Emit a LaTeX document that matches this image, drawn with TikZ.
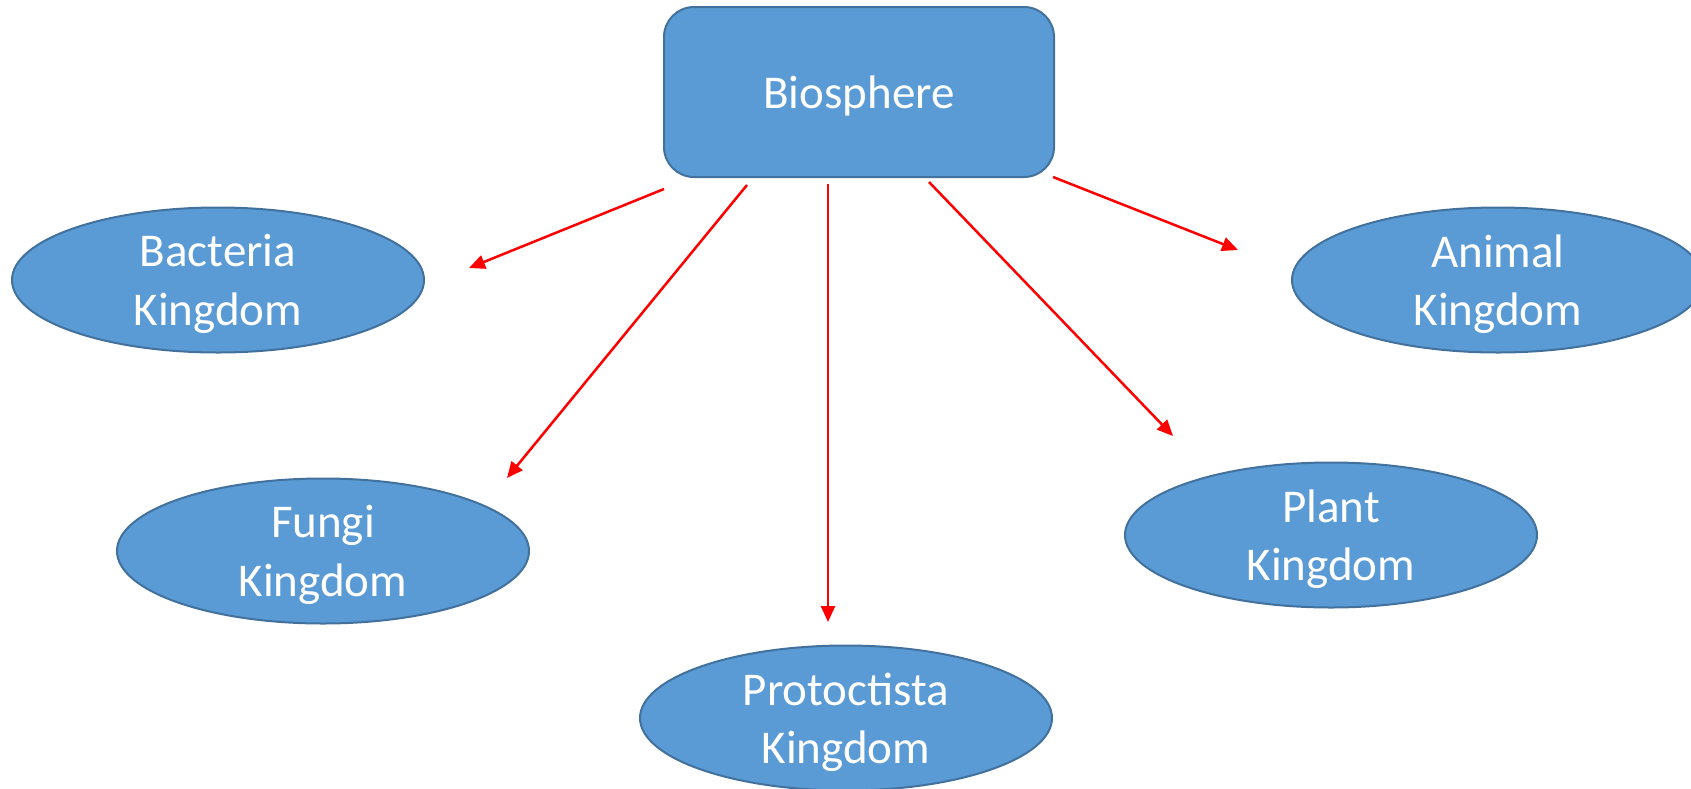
\documentclass[tikz,border=0pt]{standalone}
\usepackage{fontspec}
\setmainfont{Carlito}
\usetikzlibrary{shapes.geometric,arrows.meta}

\definecolor{boxfill}{RGB}{91,155,213}
\definecolor{boxline}{RGB}{65,113,156}
\definecolor{arrowred}{RGB}{255,0,0}

\newcommand{\nodepth}[1]{\raisebox{0pt}[\height][0pt]{#1}}

\tikzset{every picture/.style={line width=2pt}}
\tikzset{
  bigfont/.style={font=\fontsize{47}{58.5}\selectfont},
  rootbox/.style={rectangle,rounded corners=30pt,draw=boxline,fill=boxfill,text=white,
    minimum width=390,minimum height=170,inner sep=0pt,text height=36pt,text depth=4pt,bigfont},
  kingdom/.style={ellipse,draw=boxline,fill=boxfill,text=white,align=center,
    minimum width=412,minimum height=145,inner sep=0pt,bigfont},
  link/.style={draw=arrowred,line width=2.5pt,-{Triangle[length=16pt,width=14pt]}}
}

\begin{document}
\begin{tikzpicture}[x=1pt,y=1pt,yscale=-1]
\useasboundingbox (0,0) rectangle (1691,788);

% Root Node
\node [rootbox] (bio) at (859,92) {Biosphere};

% Kingdom Nodes
\node [kingdom] (bact) at (218,280) {Bacteria\\\nodepth{Kingdom}};
\node [kingdom] (fungi) at (323,551) {Fungi\\\nodepth{Kingdom}};
\node [kingdom] (proto) at (846,718) {Protoctista\\\nodepth{Kingdom}};
\node [kingdom] (plant) at (1331,535) {Plant\\\nodepth{Kingdom}};
\node [kingdom] (animal) at (1498,280) {Animal\\\nodepth{Kingdom}};

% Arrow ends
\coordinate (outBact) at (664,189);   \coordinate (inBact) at (469,268);
\coordinate (outFungi) at (747,185);  \coordinate (inFungi) at (507,478);
\coordinate (outProto) at (828,184);  \coordinate (inProto) at (828,622);
\coordinate (outPlant) at (929,182);  \coordinate (inPlant) at (1173,436);
\coordinate (outAnimal) at (1053,177); \coordinate (inAnimal) at (1238,250);

% Arrows
\draw [link] (outBact) -- (inBact);
\draw [link] (outFungi) -- (inFungi);
\draw [link] (outProto) -- (inProto);
\draw [link] (outPlant) -- (inPlant);
\draw [link] (outAnimal) -- (inAnimal);

\end{tikzpicture}
\end{document}
